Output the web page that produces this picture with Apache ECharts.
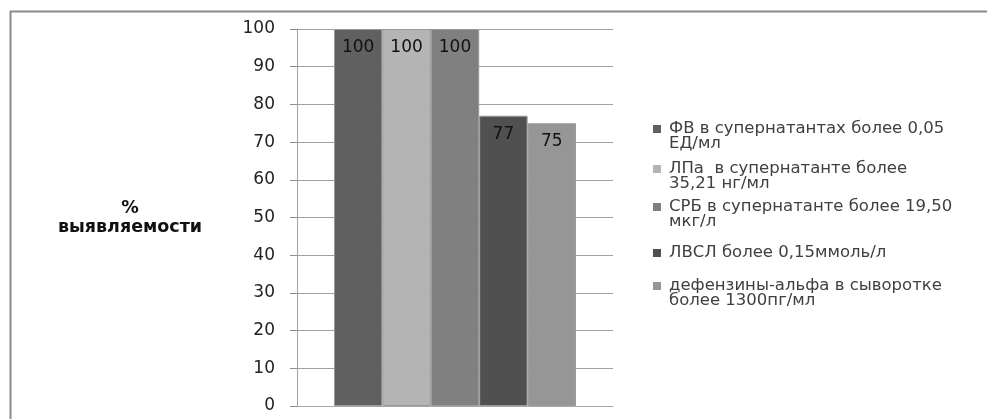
<!DOCTYPE html>
<html>
<head>
<meta charset="utf-8">
<script src="https://cdn.jsdelivr.net/npm/echarts@6/dist/echarts.min.js"></script>
<style>
  html, body { margin: 0; padding: 0; background: #fff; }
  #chart { width: 987px; height: 419px; }
</style>
</head>
<body>
<div id="chart"></div>
<script>
// Detection rate (%) of each marker
const categories = ['выявляемость'];
const seriesNames = [
  'ФВ в супернатантах более 0,05\nЕД/мл',
  'ЛПа  в супернатанте более\n35,21 нг/мл',
  'СРБ в супернатанте более 19,50\nмкг/л',
  'ЛВСЛ более 0,15ммоль/л',
  'дефензины-альфа в сыворотке\nболее 1300пг/мл'
];
const seriesValues = [100, 100, 100, 77, 75];
const yTicks = [0, 10, 20, 30, 40, 50, 60, 70, 80, 90, 100];

const colors = ['#606060', '#b4b4b4', '#808080', '#505050', '#969696'];
const LINE_H = 15;
// vertical centre of the first text line of each legend entry
const legendLineCentres = [128, 168, 206, 252, 285];
const FONT = 'DejaVu Sans';

// Legend icon boxes are 11 wide with an 8x8 square at the left, which leaves
// a wider gap before the text. Two-line entries use a 23-high box with the square
// at the top, so the square lines up with the first line (the block is centred on the icon).
const ICON_SINGLE = 'path://M0,0h8v8h-8zM11,8';
const ICON_DOUBLE = 'path://M0,0h8v8h-8zM11,23';

const chart = echarts.init(document.getElementById('chart'), null, { renderer: 'canvas' });

const series = seriesNames.map((name, i) => ({
  name: name,
  type: 'bar',
  data: [seriesValues[i]],
  barGap: '0%',
  barCategoryGap: '23.4%',
  itemStyle: { color: colors[i], borderColor: '#9a9a9a', borderWidth: 1 },
  label: {
    show: true,
    position: 'insideTop',
    distance: 10,
    color: '#111',
    fontFamily: FONT,
    fontSize: 17
  }
}));

const legends = seriesNames.map((name, i) => {
  const twoLines = name.indexOf('\n') >= 0;
  return {
    data: [name],
    left: 653,
    top: legendLineCentres[i] - LINE_H / 2,
    padding: 0,
    itemWidth: 11,
    itemHeight: twoLines ? 23 : 8,
    itemGap: 0,
    icon: twoLines ? ICON_DOUBLE : ICON_SINGLE,
    itemStyle: { borderWidth: 0 },
    selectedMode: false,
    textStyle: {
      fontFamily: FONT,
      fontSize: 16.5,
      color: '#404040',
      lineHeight: LINE_H
    }
  };
});

chart.setOption({
  animation: false,
  color: colors,
  graphic: [{
    type: 'rect',
    left: 8,
    top: 9,
    shape: { width: 1200, height: 600 },
    style: { fill: 'none', stroke: '#8a8a8a', lineWidth: 2 },
    silent: true
  }],
  legend: legends,
  grid: { left: 297, right: 374, top: 29, bottom: 13 },
  xAxis: {
    type: 'category',
    data: categories,
    axisLine: { show: true, lineStyle: { color: '#a8a8a8', width: 1 } },
    axisTick: { show: false },
    axisLabel: { show: false }
  },
  yAxis: {
    type: 'value',
    min: yTicks[0],
    max: yTicks[yTicks.length - 1],
    interval: 10,
    name: '%\nвыявляемости',
    nameLocation: 'middle',
    nameRotate: 0,
    nameGap: 167,
    nameTextStyle: {
      fontFamily: FONT,
      fontSize: 17.5,
      fontWeight: 'bold',
      color: '#111',
      align: 'center',
      verticalAlign: 'middle',
      lineHeight: 19
    },
    axisLine: { show: true, lineStyle: { color: '#a0a0a0', width: 1 } },
    axisTick: { show: true, length: 7, lineStyle: { color: '#909090' } },
    axisLabel: {
      margin: 22,
      fontFamily: FONT,
      fontSize: 17,
      color: '#222'
    },
    splitLine: { show: true, lineStyle: { color: '#a0a0a0', width: 1 } }
  },
  series: series
});
</script>
</body>
</html>
